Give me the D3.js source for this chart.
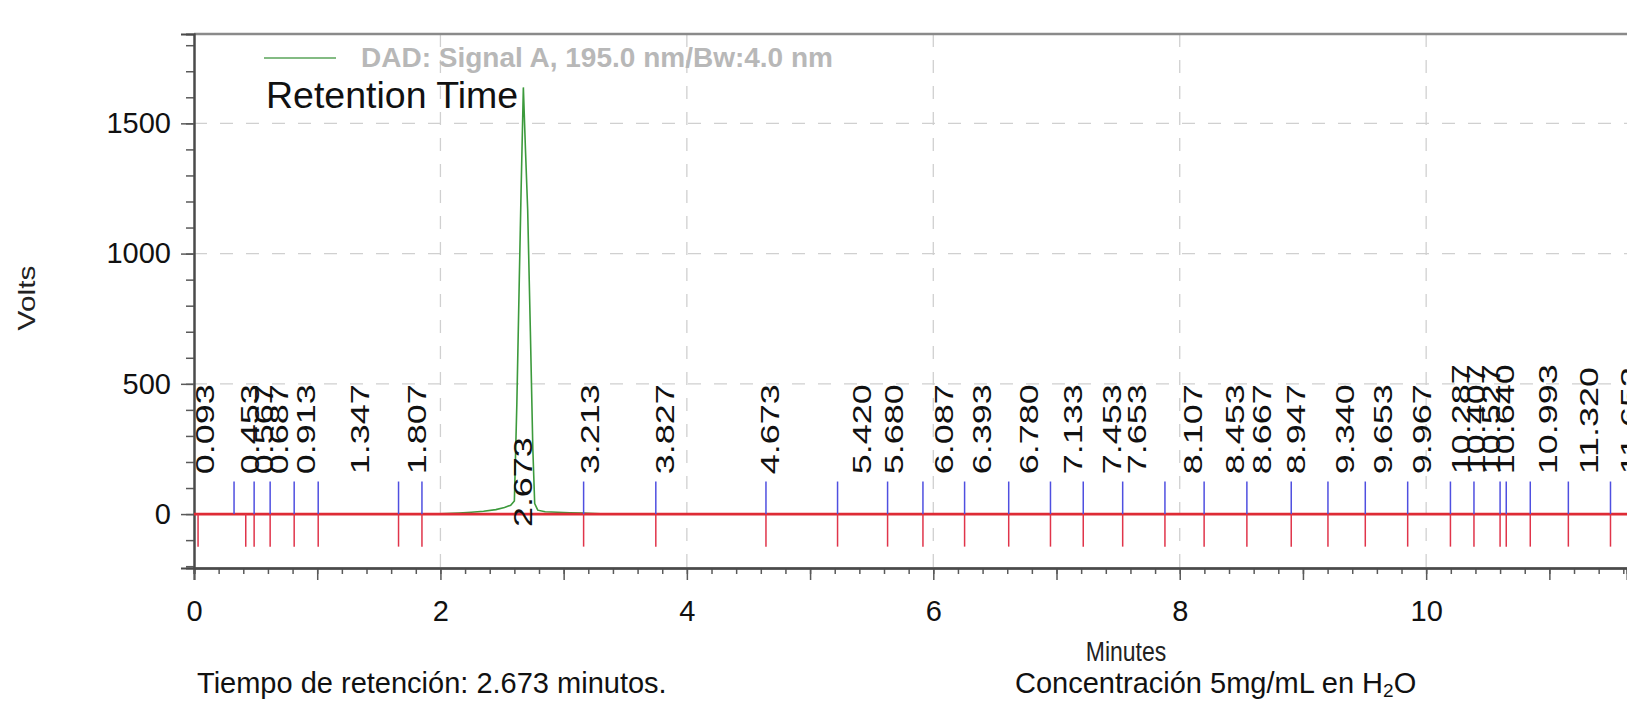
<!DOCTYPE html>
<html>
<head>
<meta charset="utf-8">
<script src="https://cdn.jsdelivr.net/npm/d3@7/dist/d3.min.js"></script>
<style>
  html, body { margin: 0; padding: 0; background: #ffffff; }
  svg { display: block; font-family: "Liberation Sans", Arial, sans-serif; }
</style>
</head>
<body>
<svg id="chart" width="1627" height="701"></svg>
<script>
// Chromatogram trace (minutes, volts)
const traceTime  = [0, 1.95, 2.05, 2.15, 2.25, 2.35, 2.45, 2.52, 2.57, 2.60, 2.62, 2.64, 2.655, 2.673, 2.69, 2.708, 2.73, 2.75, 2.765, 2.79, 2.85, 2.95, 3.05, 3.15, 3.25, 3.35, 11.8];
const traceVolts = [0, 0, 2, 4, 7, 11, 17, 25, 34, 50, 420, 900, 1250, 1638, 1400, 1169, 700, 250, 40, 15, 9, 7, 5, 4, 2, 0, 0];

// Integrated peak apex times (minutes)
const peakTimes = [0.093, 0.453, 0.567, 0.687, 0.913, 1.347, 1.807, 2.673, 3.213, 3.827, 4.673,
  5.420, 5.680, 6.087, 6.393, 6.780, 7.133, 7.453, 7.653, 8.107, 8.453, 8.667, 8.947, 9.340,
  9.653, 9.967, 10.287, 10.407, 10.527, 10.640, 10.993, 11.320, 11.653];

// Peak start (above baseline) and end (below baseline) event marks, minutes
const startMarks = [0.325, 0.488, 0.618, 0.813, 1.008, 1.66, 1.85, 3.162, 3.748, 4.642, 5.223,
  5.629, 5.916, 6.254, 6.612, 6.951, 7.217, 7.537, 7.880, 8.198, 8.545, 8.905, 9.203, 9.506,
  9.85, 10.197, 10.388, 10.60, 10.65, 10.845, 11.154, 11.496];
const endMarks = [0.033, 0.42, 0.488, 0.618, 0.813, 1.008, 1.66, 1.85, 3.162, 3.748, 4.642, 5.223,
  5.629, 5.916, 6.254, 6.612, 6.951, 7.217, 7.537, 7.880, 8.198, 8.545, 8.905, 9.203, 9.506,
  9.85, 10.197, 10.388, 10.60, 10.65, 10.845, 11.154, 11.496];

// Axis ticks
const xTickLabels = [0, 2, 4, 6, 8, 10];
const yTickLabels = [0, 500, 1000, 1500];

const legendText = "DAD: Signal A, 195.0 nm/Bw:4.0 nm";
const annotation = "Retention Time";
const markHeight = 125;   // volts, height of start/end event marks

const svg = d3.select("#chart");
const plotLeft = 194, plotRight = 1627, plotTop = 34, plotBottom = 568;

const x = d3.scaleLinear().domain([0, 11.63]).range([plotLeft, plotRight]);
const y = d3.scaleLinear().domain([-207, 1843]).range([plotBottom, plotTop]);

svg.append("defs").append("clipPath").attr("id", "plot")
  .append("rect").attr("x", plotLeft).attr("y", plotTop)
  .attr("width", plotRight - plotLeft).attr("height", plotBottom - plotTop);

// Dashed grid
const grid = svg.append("g").attr("stroke", "#d0d0d0").attr("stroke-width", 1.3)
  .attr("stroke-dasharray", "13,13");
grid.selectAll("line.h").data(yTickLabels.filter(d => d > 0)).join("line").attr("class", "h")
  .attr("x1", plotLeft).attr("x2", plotRight).attr("y1", d => y(d)).attr("y2", d => y(d));
grid.selectAll("line.v").data(xTickLabels.filter(d => d > 0)).join("line").attr("class", "v")
  .attr("y1", plotTop).attr("y2", plotBottom).attr("x1", d => x(d)).attr("x2", d => x(d));

// Top frame line
svg.append("line").attr("x1", plotLeft).attr("x2", plotRight).attr("y1", plotTop).attr("y2", plotTop)
  .attr("stroke", "#8a8a8a").attr("stroke-width", 2.5);

// Axes
const xAxis = svg.append("g").attr("transform", `translate(0,${plotBottom})`);
xAxis.call(d3.axisBottom(x).tickValues(d3.range(0, 11.61, 0.2)).tickSize(6).tickFormat(""));
xAxis.append("g").call(d3.axisBottom(x).tickValues(d3.range(0, 12, 1)).tickSize(12).tickFormat(""));
xAxis.append("g").call(d3.axisBottom(x).tickValues(xTickLabels).tickSize(0).tickPadding(32)
  .tickFormat(d3.format("d")));
xAxis.selectAll("path.domain").attr("stroke", "#4a4a4a").attr("stroke-width", 2);
xAxis.selectAll(".tick line").attr("stroke", "#5a5a5a").attr("stroke-width", 1.5);
xAxis.selectAll("text").attr("font-size", 29).attr("fill", "#111").attr("font-family", "Liberation Sans, Arial");

const yAxis = svg.append("g").attr("transform", `translate(${plotLeft},0)`);
yAxis.call(d3.axisLeft(y).tickValues(d3.range(-200, 1801, 100)).tickSize(8).tickFormat(""));
yAxis.append("g").call(d3.axisLeft(y).tickValues(yTickLabels).tickSize(13).tickPadding(10)
  .tickFormat(d3.format("d")));
yAxis.selectAll("path.domain").attr("stroke", "#4a4a4a").attr("stroke-width", 2);
yAxis.selectAll(".tick line").attr("stroke", "#5a5a5a").attr("stroke-width", 1.5);
yAxis.selectAll("text").attr("font-size", 29).attr("fill", "#111").attr("font-family", "Liberation Sans, Arial");

const plot = svg.append("g").attr("clip-path", "url(#plot)");

// Signal trace
const trace = traceTime.map((t, i) => [t, traceVolts[i]]);
plot.append("path").datum(trace)
  .attr("fill", "none").attr("stroke", "#3c9a3c").attr("stroke-width", 1.6)
  .attr("d", d3.line().x(d => x(d[0])).y(d => y(d[1])));

// Baseline
plot.append("line").attr("x1", x(0)).attr("x2", plotRight).attr("y1", y(0)).attr("y2", y(0))
  .attr("stroke", "#de2b35").attr("stroke-width", 2.6);

// Event marks
plot.selectAll("line.start").data(startMarks).join("line").attr("class", "start")
  .attr("x1", d => x(d)).attr("x2", d => x(d)).attr("y1", y(0)).attr("y2", y(markHeight))
  .attr("stroke", "#4f4fe0").attr("stroke-width", 1.5);
plot.selectAll("line.end").data(endMarks).join("line").attr("class", "end")
  .attr("x1", d => x(d)).attr("x2", d => x(d)).attr("y1", y(0)).attr("y2", y(-markHeight))
  .attr("stroke", "#e0344a").attr("stroke-width", 1.5);

// Peak time labels (rotated, drawn tall)
const tallest = traceTime[traceVolts.indexOf(d3.max(traceVolts))];
svg.append("g").selectAll("text").data(peakTimes).join("text")
  .attr("transform", d => {
    const base = Math.abs(d - tallest) < 0.005 ? -50 : 153;
    return `translate(${x(d)},${y(base)}) rotate(-90) scale(1.41,1)`;
  })
  .attr("dy", "0.35em").attr("font-size", 25.5).attr("fill", "#111")
  .text(d => d3.format(".3f")(d));

// Legend and annotation
svg.append("line").attr("x1", 264).attr("x2", 336).attr("y1", 58).attr("y2", 58)
  .attr("stroke", "#5aa55a").attr("stroke-width", 1.5);
svg.append("text").attr("x", 361).attr("y", 67).attr("font-size", 28).attr("font-weight", "bold")
  .attr("fill", "#b8b8b8").text(legendText);
svg.append("text").attr("x", 266).attr("y", 108).attr("font-size", 37.5).attr("fill", "#111")
  .text(annotation);

// Axis titles (drawn tall, like the peak labels)
svg.append("text").attr("transform", "translate(35,298) rotate(-90) scale(1.3,1)")
  .attr("text-anchor", "middle").attr("font-size", 23).attr("fill", "#222").text("Volts");
svg.append("text").attr("transform", "translate(1126,661) scale(1,1.22)")
  .attr("text-anchor", "middle").attr("font-size", 23).attr("fill", "#222").text("Minutes");

// Notes under the chart
svg.append("text").attr("x", 197).attr("y", 693).attr("font-size", 29).attr("fill", "#111")
  .text("Tiempo de retención: 2.673 minutos.");
const conc = svg.append("text").attr("x", 1015).attr("y", 693).attr("font-size", 29).attr("fill", "#111");
conc.append("tspan").text("Concentración 5mg/mL en H");
conc.append("tspan").attr("font-size", 19).attr("dy", 4).text("2");
conc.append("tspan").attr("dy", -4).text("O");
</script>
</body>
</html>
